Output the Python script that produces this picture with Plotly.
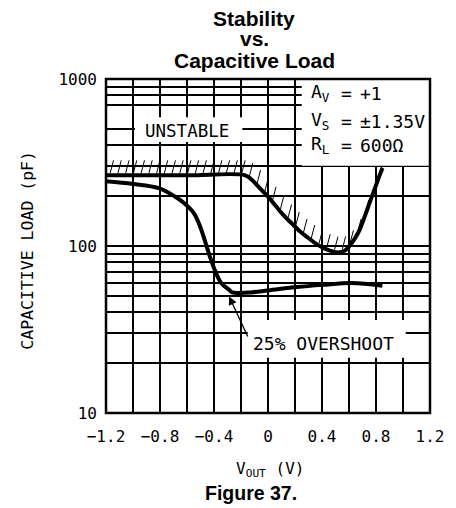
import numpy as np
import plotly.graph_objects as go

# Stability boundary (onset of instability) vs. output voltage
vout_bound = [-1.2, -0.6, -0.168, -0.12, -0.061, -0.001, 0.059, 0.118, 0.178, 0.238,
              0.297, 0.357, 0.417, 0.476, 0.524, 0.572, 0.62, 0.668, 0.716, 0.752,
              0.788, 0.824, 0.848]
cap_bound = [265, 265, 265, 249, 222, 198, 173, 152, 136, 122,
             112, 103, 96.8, 92.9, 91.6, 94.2, 104, 120, 150, 181,
             217, 261, 293]

# 25% overshoot contour
vout_os = [-1.2, -1.0, -0.81, -0.69, -0.622, -0.551, -0.503, -0.431, -0.395,
           -0.347, -0.288, -0.264, -0.145, -0.001, 0.214, 0.405, 0.62, 0.847]
cap_os = [244, 235, 222, 198, 181, 158, 131, 86.7, 72,
          60, 54.7, 52.7, 52.7, 54.2, 56.8, 58.5, 60, 57.8]

x_ticks = [-1.2, -0.8, -0.4, 0.0, 0.4, 0.8, 1.2]
x_tick_text = ["\u22121.2", "\u22120.8", "\u22120.4", "0", "0.4", "0.8", "1.2"]
x_minor = [-1.0, -0.6, -0.2, 0.2, 0.6, 1.0]
y_ticks = [10, 100, 1000]
y_tick_text = ["10", "100", "1000"]
y_minor = [20, 30, 40, 50, 60, 70, 80, 90, 200, 300, 400, 500, 700, 800, 900]

conditions = [("A<sub>V</sub>", "+1"), ("V<sub>S</sub>", "\u00b11.35V"), ("R<sub>L</sub>", "600\u03a9")]

W, H = 456, 508
ML, MR, MT, MB = 106, 15, 79, 95
PW, PH = W - ML - MR, H - MT - MB
X0, X1 = -1.2, 1.2
LOG0, LOG1 = 1.0, 3.0

MONO = "DejaVu Sans Mono"
SANS = "Liberation Sans, Arial"


def to_px(x, c):
    """data -> plot-area pixels (origin bottom-left, v upward)"""
    u = (np.asarray(x, float) - X0) / (X1 - X0) * PW
    v = (np.log10(np.asarray(c, float)) - LOG0) / (LOG1 - LOG0) * PH
    return u, v


def from_px(u, v):
    x = np.asarray(u) / PW * (X1 - X0) + X0
    c = 10 ** (np.asarray(v) / PH * (LOG1 - LOG0) + LOG0)
    return x, c


def ypaper(py):
    return (H - MB - py) / PH


def xpaper(px):
    return (px - ML) / PW


# hatch ticks on the unstable side of the boundary
ub, vb = to_px(vout_bound, cap_bound)
hu = np.arange(ub[0] + 4, ub[-1], 8.0)
hv = np.interp(hu, ub, vb)
hx, hy = [], []
for u, v in zip(hu, hv):
    xs, cs = from_px([u + 0.3, u + 3.8], [v + 2.0, v + 15.0])
    hx += [xs[0], xs[1], None]
    hy += [cs[0], cs[1], None]

fig = go.Figure()
fig.add_trace(go.Scatter(x=hx, y=hy, mode="lines", line=dict(color="black", width=1),
                         hoverinfo="skip", showlegend=False))
fig.add_trace(go.Scatter(x=vout_bound, y=cap_bound, mode="lines",
                         line=dict(color="black", width=4, shape="spline", smoothing=1.0),
                         showlegend=False))
fig.add_trace(go.Scatter(x=vout_os, y=cap_os, mode="lines",
                         line=dict(color="black", width=4, shape="spline", smoothing=1.0),
                         showlegend=False))


def box_paper(x0, x1, c0, c1):
    u0, v0 = to_px(x0, c0)
    u1, v1 = to_px(x1, c1)
    return dict(type="rect", xref="paper", yref="paper",
                x0=float(u0) / PW, x1=float(u1) / PW, y0=float(v0) / PH, y1=float(v1) / PH,
                fillcolor="white", line=dict(width=0), layer="above")


shapes = [
    box_paper(0.25, 1.2, 302, 1000),      # conditions panel
    box_paper(-0.985, -0.19, 420, 590),   # UNSTABLE label
    box_paper(-0.15, 1.02, 21.4, 36),     # overshoot label
    dict(type="rect", xref="paper", yref="paper", x0=0, x1=1, y0=0, y1=1,
         line=dict(color="black", width=2.5), fillcolor="rgba(0,0,0,0)", layer="above"),
]

ann = []
# title
for txt, py in [("Stability", 18.5), ("vs.", 39), ("Capacitive Load", 60.5)]:
    ann.append(dict(text="<b>%s</b>" % txt, xref="paper", yref="paper", x=xpaper(259.5),
                    y=ypaper(py), xanchor="center", yanchor="middle", showarrow=False,
                    font=dict(family=SANS, size=21, color="black")))
ann.append(dict(text="<b>Figure 37.</b>", xref="paper", yref="paper", x=xpaper(256),
                y=ypaper(493), xanchor="center", yanchor="middle", showarrow=False,
                font=dict(family=SANS, size=19.5, color="black")))
# axis titles
ann.append(dict(text="V<sub>OUT</sub> (V)", xref="paper", yref="paper", x=xpaper(238),
                y=ypaper(469), xanchor="left", yanchor="middle", showarrow=False,
                font=dict(family=MONO, size=16, color="black")))
ann.append(dict(text="CAPACITIVE LOAD (pF)", xref="paper", yref="paper", x=xpaper(24),
                y=ypaper(250), xanchor="center", yanchor="middle", showarrow=False,
                textangle=-90, font=dict(family=MONO, size=16.5, color="black")))
# in-plot labels
ann.append(dict(text="UNSTABLE", xref="paper", yref="paper", x=xpaper(190), y=ypaper(131),
                xanchor="center", yanchor="middle", showarrow=False,
                font=dict(family=MONO, size=17.5, color="black")))
ann.append(dict(text="25% OVERSHOOT", xref="paper", yref="paper", x=xpaper(330.5),
                y=ypaper(343), xanchor="center", yanchor="middle", showarrow=False,
                font=dict(family=MONO, size=18, color="black")))
ann.append(dict(text="", x=-0.288, y=np.log10(49.9), xref="x", yref="y",
                ax=-0.145, ay=np.log10(28.1), axref="x", ayref="y",
                showarrow=True, arrowhead=2, arrowsize=1.3, arrowwidth=1.3,
                arrowcolor="black"))
for (name, val), py in zip(conditions, [93, 121, 145]):
    ann.append(dict(text=name, xref="paper", yref="paper", x=xpaper(316), y=ypaper(py),
                    xanchor="left", yanchor="middle", showarrow=False,
                    font=dict(family=MONO, size=18, color="black")))
    ann.append(dict(text="=", xref="paper", yref="paper", x=xpaper(347), y=ypaper(py),
                    xanchor="left", yanchor="middle", showarrow=False,
                    font=dict(family=MONO, size=18, color="black")))
    ann.append(dict(text=val, xref="paper", yref="paper", x=xpaper(367), y=ypaper(py),
                    xanchor="left", yanchor="middle", showarrow=False,
                    font=dict(family=MONO, size=18, color="black")))

grid = dict(showgrid=True, gridcolor="black", gridwidth=1.5, zeroline=False,
            showline=False, ticks="")

fig.update_layout(
    width=W, height=H,
    margin=dict(l=ML, r=MR, t=MT, b=MB, pad=0),
    paper_bgcolor="white", plot_bgcolor="white",
    showlegend=False,
    xaxis=dict(range=[X0, X1], tickvals=x_ticks, ticktext=x_tick_text,
               tickfont=dict(family=MONO, size=16, color="black"),
               ticklabelstandoff=12,
               minor=dict(tickvals=x_minor, showgrid=True, gridcolor="black", gridwidth=1.5),
               **grid),
    yaxis=dict(type="log", range=[LOG0, LOG1], tickvals=y_ticks, ticktext=y_tick_text,
               tickfont=dict(family=MONO, size=16, color="black"),
               ticklabelstandoff=8,
               minor=dict(tickvals=y_minor, showgrid=True, gridcolor="black", gridwidth=1.5),
               **grid),
    shapes=shapes,
    annotations=ann,
)

fig.write_html("out.html")
